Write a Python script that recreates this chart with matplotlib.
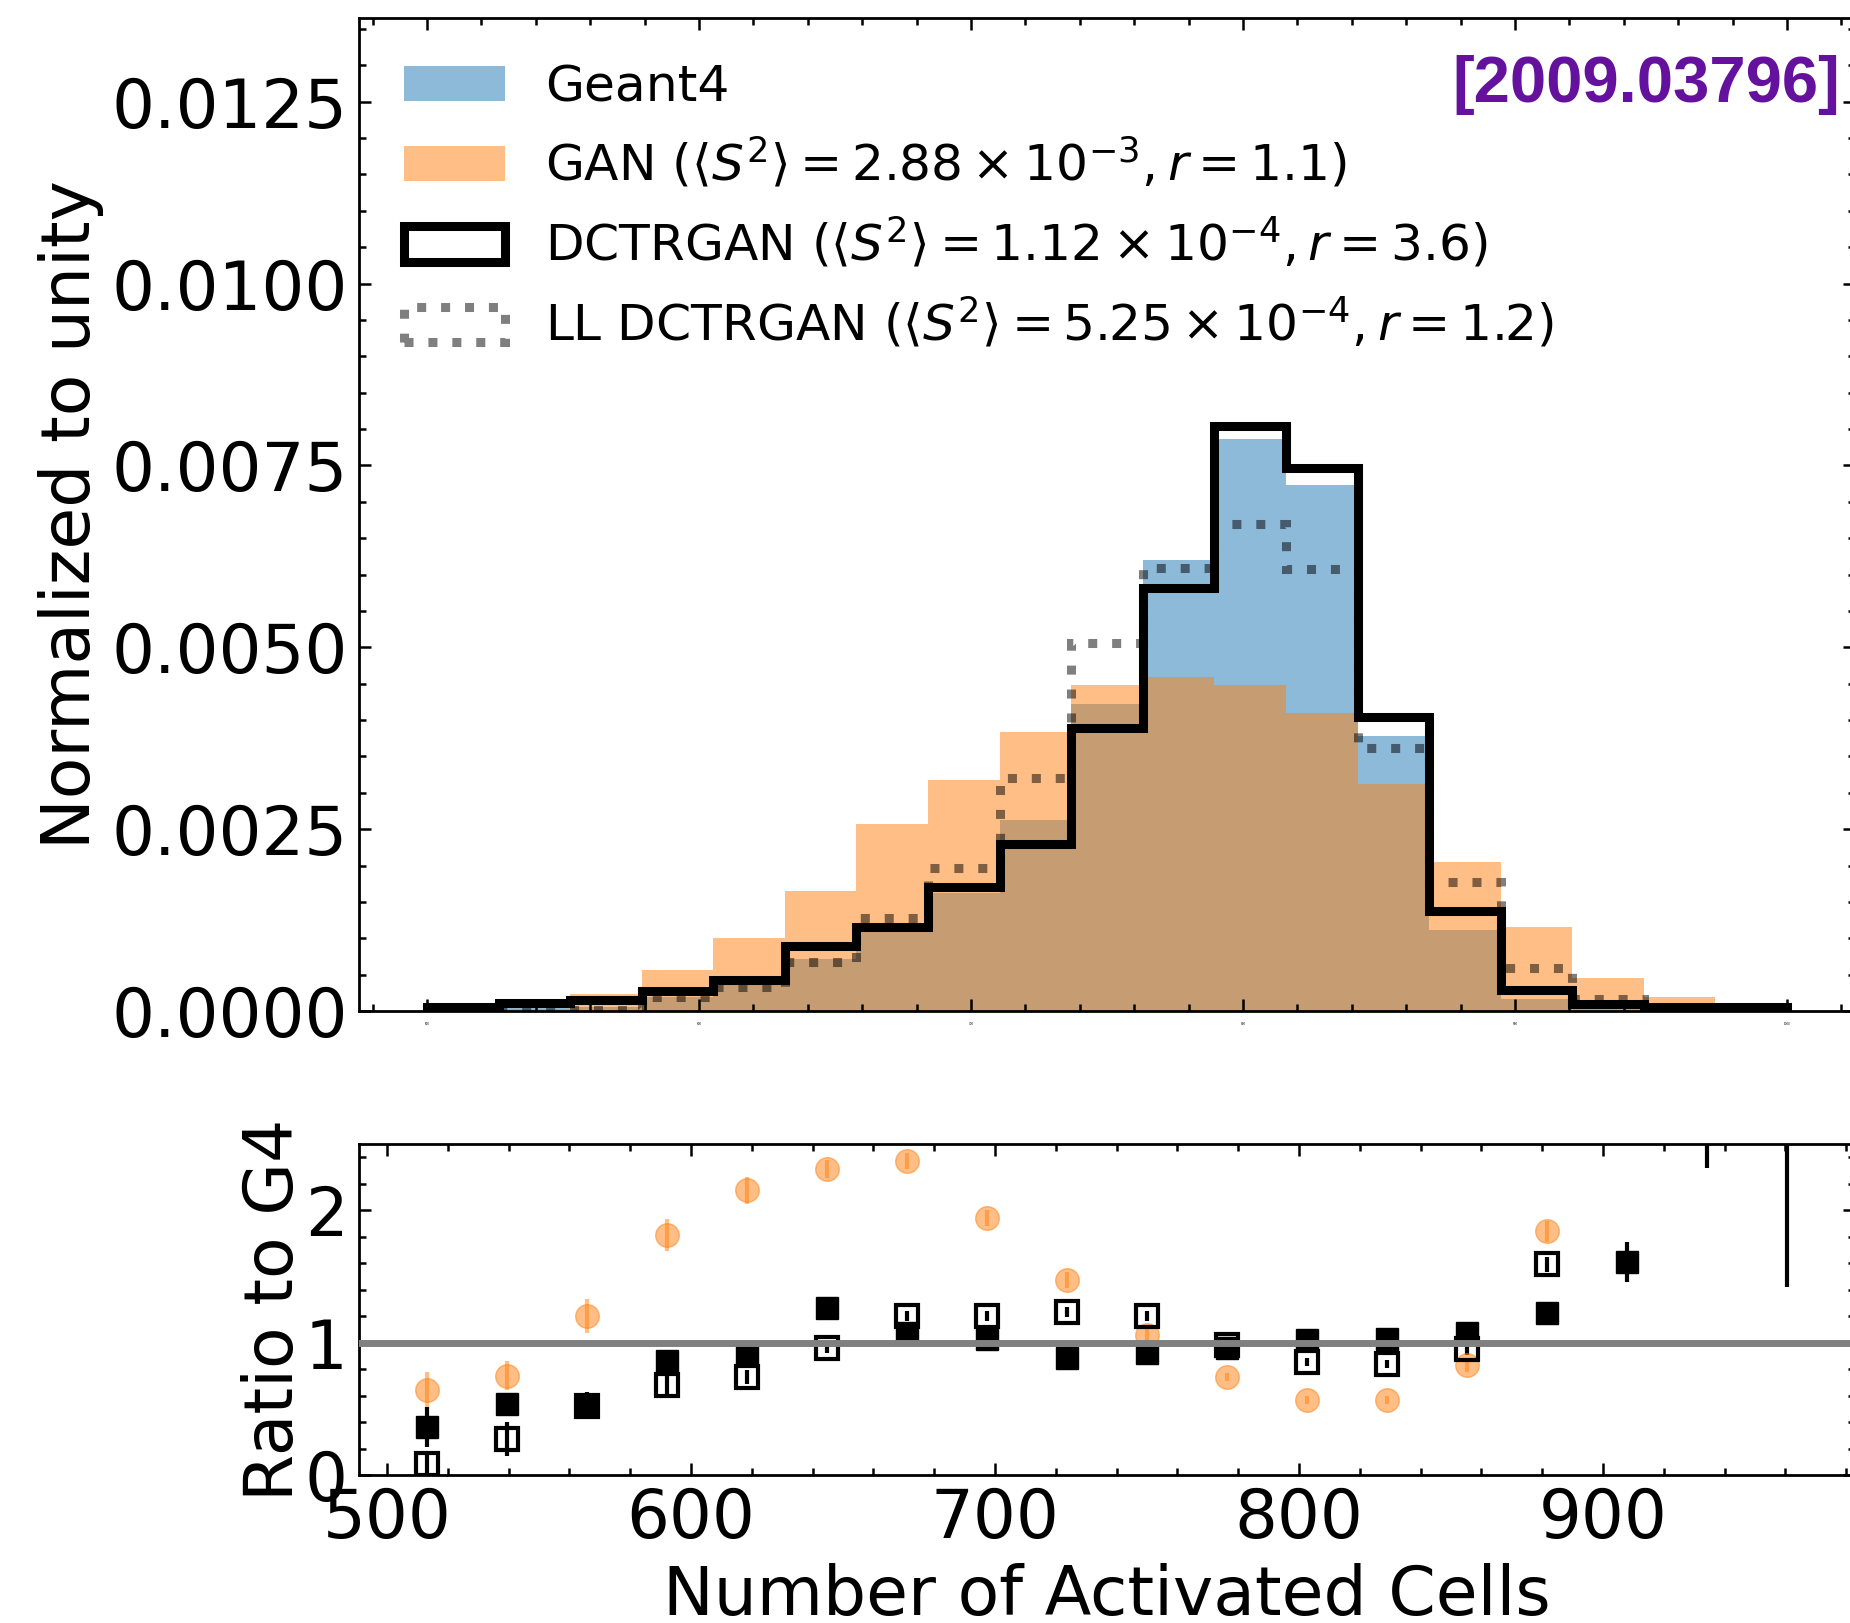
import numpy as np
import matplotlib
matplotlib.use("Agg")
import matplotlib.pyplot as plt
from matplotlib.ticker import MultipleLocator

# ---------------- data ----------------
bin_lo, bin_hi, n_bins = 500.0, 1000.0, 19
bin_edges = np.linspace(bin_lo, bin_hi, n_bins + 1)
bin_centers = 0.5 * (bin_edges[:-1] + bin_edges[1:])

geant4 = [0.00003, 0.00004, 0.00005, 0.00019, 0.00036, 0.00071, 0.00108, 0.00162,
          0.00262, 0.00422, 0.00620, 0.00786, 0.00723, 0.00378, 0.00112, 0.00017,
          0.00005, 0.00002, 0.00001]
gan = [0.00002, 0.00003, 0.00024, 0.00057, 0.00100, 0.00165, 0.00257, 0.00318,
       0.00384, 0.00448, 0.00459, 0.00448, 0.00410, 0.00312, 0.00205, 0.00116,
       0.00046, 0.00019, 0.00007]
dctrgan = [0.00005, 0.00011, 0.00015, 0.00027, 0.00043, 0.00090, 0.00116, 0.00170,
           0.00230, 0.00389, 0.00582, 0.00804, 0.00746, 0.00404, 0.00137, 0.00029,
           0.00009, 0.00006, 0.00005]
ll_dctrgan = [0.00001, 0.00002, 0.00002, 0.00019, 0.00033, 0.00068, 0.00128, 0.00197,
              0.00320, 0.00506, 0.00609, 0.00670, 0.00608, 0.00362, 0.00177, 0.00059,
              0.00016, 0.00005, 0.00001]

nan = np.nan
# ratios to Geant4 (one per bin, NaN = not drawn)
ratio_gan = [0.64, 0.75, 1.20, 1.81, 2.15, 2.31, 2.37, 1.94, 1.47, 1.06, 0.74, 0.57,
             0.57, 0.83, 1.84, nan, nan, nan, nan]
ratio_gan_err = [0.14, 0.11, 0.13, 0.12, 0.10, 0.07, 0.06, 0.06, 0.06, 0.06, 0.03, 0.03,
                 0.03, 0.05, 0.08, nan, nan, nan, nan]
ratio_dctr = [0.36, 0.54, 0.53, 0.86, 0.91, 1.26, 1.07, 1.03, 0.88, 0.92, 0.96, 1.02,
              1.03, 1.07, 1.22, 1.61, 2.90, 3.40, nan]
ratio_dctr_err = [0.15, 0.05, 0.10, 0.05, 0.05, 0.05, 0.04, 0.03, 0.03, 0.03, 0.03, 0.03,
                  0.03, 0.04, 0.06, 0.15, 0.58, 1.98, nan]
ratio_ll = [0.08, 0.27, 0.52, 0.68, 0.74, 0.96, 1.20, 1.20, 1.23, 1.20, 0.98, 0.85,
            0.84, 0.95, 1.59, nan, nan, nan, nan]
ratio_ll_err = [0.10, 0.13, 0.05, 0.07, 0.05, 0.04, 0.04, 0.04, 0.04, 0.04, 0.03, 0.03,
                0.03, 0.04, 0.06, nan, nan, nan, nan]

labels = ['Geant4',
          r'GAN ($\langle S^2\rangle = 2.88\times 10^{-3}, r=1.1$)',
          r'DCTRGAN ($\langle S^2\rangle = 1.12\times 10^{-4}, r=3.6$)',
          r'LL DCTRGAN ($\langle S^2\rangle = 5.25\times 10^{-4}, r=1.2$)']
xlabel = 'Number of Activated Cells'
ylabel_top = 'Normalized to unity'
ylabel_bot = 'Ratio to G4'
tag = '[2009.03796]'

# ---------------- figure ----------------
W, H = 1850, 1623
fig = plt.figure(figsize=(W / 100, H / 100), dpi=100)
ax1 = fig.add_axes([359 / W, 1 - 1011 / H, 1496 / W, (1011 - 18) / H])
ax2 = fig.add_axes([359 / W, 1 - 1475 / H, 1496 / W, (1475 - 1144) / H])

FS = 48.5
LFS = 49

ax1.hist(bin_centers, bins=bin_edges, weights=geant4, color='C0', alpha=0.5, label=labels[0])
ax1.hist(bin_centers, bins=bin_edges, weights=gan, color='C1', alpha=0.5, label=labels[1])
ax1.hist(bin_centers, bins=bin_edges, weights=dctrgan, histtype='step', color='black',
         linewidth=6.5, label=labels[2])
ax1.hist(bin_centers, bins=bin_edges, weights=ll_dctrgan, histtype='step', color='black',
         alpha=0.5, linestyle=':', linewidth=6.5, label=labels[3])

ax1.set_xlim(475, 1025)
ax1.set_ylim(0, 0.01365)
ax1.set_ylabel(ylabel_top, fontsize=LFS)
ax1.yaxis.set_label_coords(-0.1705, 0.5)
ax1.legend(loc='upper left', frameon=False, fontsize=36.2)
ax1.text(1840 / W, 1 - 101.7 / H, tag, transform=fig.transFigure, ha='right', va='baseline',
         fontsize=47, fontweight='bold', color='#64129e', family='Liberation Sans')

ax2.errorbar(bin_centers, ratio_gan, yerr=ratio_gan_err, fmt='o', color='C1', alpha=0.5,
             ms=17, elinewidth=3)
ax2.errorbar(bin_centers, ratio_dctr, yerr=ratio_dctr_err, fmt='s', color='black',
             ms=16.5, elinewidth=3)
ax2.errorbar(bin_centers, ratio_ll, yerr=ratio_ll_err, fmt='s', color='black', mfc='none',
             mec='black', mew=3, ms=15.5, elinewidth=3)
ax2.axhline(1.0, color='gray', linewidth=5, zorder=3)
ax2.set_xlim(490.8, 982.9)
ax2.set_ylim(0, 2.5)
ax2.set_xlabel(xlabel, fontsize=LFS, labelpad=7.5)
ax2.set_ylabel(ylabel_bot, fontsize=LFS)
ax2.yaxis.set_label_coords(-0.0348, 0.5)

for ax in (ax1, ax2):
    ax.tick_params(which='both', direction='in', top=True, right=True, width=1.8, pad=8,
                   labelsize=FS)
    ax.tick_params(which='major', length=8.5)
    ax.tick_params(which='minor', length=5)
    for s in ax.spines.values():
        s.set_linewidth(2)
    ax.xaxis.set_major_locator(MultipleLocator(100))
    ax.xaxis.set_minor_locator(MultipleLocator(20))

ax1.yaxis.set_major_locator(MultipleLocator(0.0025))
ax1.yaxis.set_minor_locator(MultipleLocator(0.0005))
ax1.tick_params(axis='x', labelsize=2)
ax2.yaxis.set_major_locator(MultipleLocator(1))
ax2.yaxis.set_minor_locator(MultipleLocator(0.2))

fig.savefig('out.png', dpi=100)
